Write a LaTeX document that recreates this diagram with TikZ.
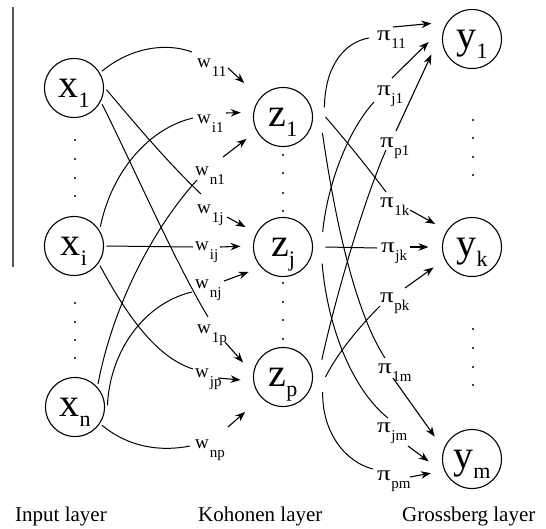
\documentclass[tikz,border=0pt]{standalone}
\usepackage{fontspec}
\setmainfont{Liberation Serif}
\usetikzlibrary{arrows.meta}
\newcommand\neuron[2]{{\fontsize{40}{40}\selectfont #1}\smash{\raisebox{-10pt}{\fontsize{22}{22}\selectfont #2}}}
\newcommand\wlab[2]{{\fontsize{19}{19}\selectfont #1}\kern1pt\raisebox{-9pt}{\fontsize{15}{15}\selectfont #2}}
\newcommand\plab[1]{\scalebox{1.35}[1.05]{\fontsize{20}{20}\selectfont π}\kern0.5pt\raisebox{-8pt}{\fontsize{15}{15}\selectfont #1}}
\tikzset{
  neur/.style={circle, draw, line width=1.1pt, minimum size=59pt, inner sep=0pt, text height=18pt, text depth=0pt},
  inlay/.style={neur, outer sep=3pt},
  kolay/.style={neur, outer sep=13pt},
  grlay/.style={neur, outer sep=14pt},
  wt/.style={inner sep=0pt, anchor=base west},
  link/.style={line width=1pt},
  arr/.style={line width=1.1pt, -{Stealth[length=10pt,width=7.5pt]}},
  laytext/.style={inner sep=0pt, anchor=base west, font=\fontsize{21}{21}\selectfont}
}
\begin{document}
\begin{tikzpicture}[x=1pt,y=-1pt]
\useasboundingbox (0,0) rectangle (546,528);
% left rule
\draw[black!65, line width=1.2pt] (13,7) -- (13,267);
% neurons
\node[inlay] (x1) at (74,88) {\neuron{x}{1}};
\node[inlay] (xi) at (74,246) {\neuron{x}{i}};
\node[inlay] (xn) at (75,407) {\neuron{x}{n}};
\node[kolay] (z1) at (283,117) {\neuron{z}{1}};
\node[kolay] (zj) at (283,247) {\neuron{z}{j}};
\node[kolay] (zp) at (283,377) {\neuron{z}{p}};
\node[grlay] (y1) at (472,39) {\neuron{y}{1}};
\node[grlay] (yk) at (472,247) {\neuron{y}{k}};
\node[grlay] (ym) at (472,459) {\neuron{y}{m}};
% dots
\foreach \yy in {140,159,178,196,303,322,340,358} \fill (75,\yy) circle (1.1pt);
\foreach \yy in {155,173,193,211,283,302,320,339} \fill (283,\yy) circle (1.1pt);
\foreach \yy in {120,138,157,175,329,348,367,385} \fill (473,\yy) circle (1.1pt);
% weight labels
\node[wt] (w11) at (197,67) {\wlab{w}{11}};
\node[wt] (wi1) at (197,123) {\wlab{w}{i1}};
\node[wt] (wn1) at (195,175) {\wlab{w}{n1}};
\node[wt] (w1j) at (197,213) {\wlab{w}{1j}};
\node[wt] (wij) at (195,250) {\wlab{w}{ij}};
\node[wt] (wnj) at (195,288) {\wlab{w}{nj}};
\node[wt] (w1p) at (197,333) {\wlab{w}{1p}};
\node[wt] (wjp) at (195,377) {\wlab{w}{jp}};
\node[wt] (wnp) at (195,448) {\wlab{w}{np}};
\node[wt] (p11) at (377,40) {\plab{11}};
\node[wt] (pj1) at (377,95) {\plab{j1}};
\node[wt] (pp1) at (380,147) {\plab{p1}};
\node[wt] (p1k) at (380,207) {\plab{1k}};
\node[wt] (pjk) at (381,252) {\plab{jk}};
\node[wt] (ppk) at (380,302) {\plab{pk}};
\node[wt] (p1m) at (378,373) {\plab{1m}};
\node[wt] (pjm) at (377,432) {\plab{jm}};
\node[wt] (ppm) at (377,480) {\plab{pm}};
% curve ends
\coordinate (cw11) at (192,52);
\coordinate (cwi1) at (193,118);
\coordinate (cwn1) at (197,180);
\coordinate (cw1j) at (201,194);
\coordinate (cwij) at (193,247);
\coordinate (cwnj) at (192,292);
\coordinate (cw1p) at (208,317);
\coordinate (cwjp) at (193,369);
\coordinate (cwnp) at (190,446);
\coordinate (cp11) at (369,38);
\coordinate (cpj1) at (374,102);
\coordinate (cpp1) at (386,150);
\coordinate (cp1k) at (386,192);
\coordinate (cpjk) at (377,248);
\coordinate (cppk) at (380,306);
\coordinate (cp1m) at (385,358);
\coordinate (cpjm) at (388,418);
\coordinate (cppm) at (373,469);
% arrow tails
\coordinate (tw11) at (228,68);
\coordinate (twi1) at (226,113);
\coordinate (twn1) at (223,157);
\coordinate (tw1j) at (227,217);
\coordinate (twij) at (220,247);
\coordinate (twnj) at (224,281);
\coordinate (tw1p) at (225,342);
\coordinate (twjp) at (218,378);
\coordinate (twnp) at (228,427);
\coordinate (tp11) at (393,27);
\coordinate (tpj1) at (392,78);
\coordinate (tpp1) at (396,131);
\coordinate (tp1k) at (410,210);
\coordinate (tpjk) at (410,247);
\coordinate (tppk) at (405,288);
\coordinate (tp1m) at (393,378);
\coordinate (tpjm) at (408,446);
\coordinate (tppm) at (410,477);
% input -> kohonen curves
\draw[link] (x1.31) .. controls (130,48) and (165,42) .. (cw11);
\draw[link] (xi.36) .. controls (112,170) and (150,128) .. (cwi1);
\draw[link] (xn.45) .. controls (112,310) and (150,232) .. (cwn1);
\draw[link] (x1.-3) .. controls (128,115) and (165,160) .. (cw1j);
\draw[link] (xi.0) -- (cwij);
\draw[link] (xn.3) .. controls (110,350) and (145,303) .. (cwnj);
\draw[link] (x1.-30) .. controls (135,170) and (175,262) .. (cw1p);
\draw[link] (xi.-37) .. controls (125,312) and (155,357) .. (cwjp);
\draw[link] (xn.-34) .. controls (128,447) and (160,452) .. (cwnp);
% kohonen -> grossberg curves
\draw[link] (z1.13) .. controls (325,65) and (345,42) .. (cp11);
\draw[link] (zj.21) .. controls (328,180) and (350,128) .. (cpj1);
\draw[link] (zp.24) .. controls (335,300) and (362,205) .. (cpp1);
\draw[link] (z1.0) .. controls (342,136) and (366,165) .. (cp1k);
\draw[link] (zj.0) -- (cpjk);
\draw[link] (zp.0) .. controls (336,356) and (356,330) .. (cppk);
\draw[link] (z1.-22) .. controls (335,220) and (355,312) .. (cp1m);
\draw[link] (zj.-23) .. controls (328,332) and (355,392) .. (cpjm);
\draw[link] (zp.-21) .. controls (322,432) and (345,462) .. (cppm);
% arrows
\draw[arr, shorten >=9pt] (tw11) -- (z1.139);
\draw[arr] (twi1) -- (z1.174);
\draw[arr] (twn1) -- (z1.211);
\draw[arr] (tw1j) -- (zj.152);
\draw[arr] (twij) -- (zj.179);
\draw[arr] (twnj) -- (zj.216);
\draw[arr] (tw1p) -- (zp.160);
\draw[arr] (twjp) -- (zp.184);
\draw[arr, shorten >=9pt] (twnp) -- (zp.223);
\draw[arr] (tp11) -- (y1.159);
\draw[arr] (tpj1) -- (y1.184);
\draw[arr] (tpp1) -- (y1.201);
\draw[arr] (tp1k) -- (yk.148);
\draw[arr] (tpjk) -- (yk.180);
\draw[arr] (tppk) -- (yk.208);
\draw[arr] (tp1m) -- (ym.149);
\draw[arr] (tpjm) -- (ym.183);
\draw[arr] (tppm) -- (ym.199);
% layer titles
\node[laytext] (tin) at (15,521) {Input layer};
\node[laytext] (tko) at (198,521) {Kohonen layer};
\node[laytext] (tgr) at (402,521) {Grossberg layer};
\end{tikzpicture}
\end{document}
